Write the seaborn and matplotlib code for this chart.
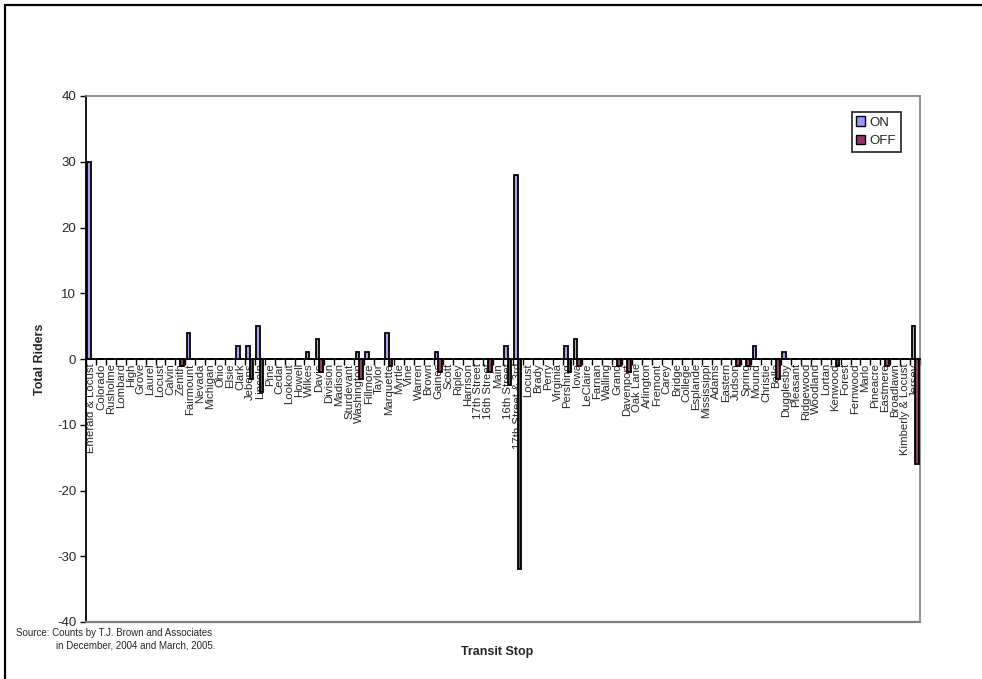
import numpy as np
import pandas as pd
import matplotlib
matplotlib.use("Agg")
import matplotlib.pyplot as plt
import matplotlib.patches as mpatches
import seaborn as sns

# transit stops along the route, in order
stops = [
    "Emerald & Locust", "Colorado", "Rusholme", "Lombard", "High", "Grove",
    "Laurel", "Locust", "Calvin", "Zenith", "Fairmount", "Nevada", "Michigan",
    "Ohio", "Elsie", "Clark", "Jebens", "Lincoln", "Pine", "Cedar", "Lookout",
    "Howell", "Wilkes", "Davis", "Division", "Madison", "Sturdevant",
    "Washington", "Fillmore", "Taylor", "Marquette", "Myrtle", "Vine",
    "Warren", "Brown", "Gaines", "Scott", "Ripley", "Harrison", "17th Street",
    "16th Street", "Main", "16th Street", "17th Street & 3rd", "Locust",
    "Brady", "Perry", "Virginia", "Pershing", "Iowa", "LeClaire", "Farnan",
    "Walling", "Grand", "Davenport", "Oak Lane", "Arlington", "Fremont",
    "Carey", "Bridge", "College", "Esplande", "Mississippi", "Adams",
    "Eastern", "Judson", "Spring", "Mound", "Christie", "Belle", "Dugglesby",
    "Pleasant", "Ridgewood", "Woodland", "Lortan", "Kenwood", "Forest",
    "Fernwood", "Marlo", "Pineacre", "Eastmere", "Broadlawn",
    "Kimberly & Locust", "Jersey",
]

on_riders = [
    30, 0, 0, 0, 0, 0, 0, 0, 0, 0, 4, 0, 0, 0, 0, 2, 2, 5, 0, 0, 0,
    0, 1, 3, 0, 0, 0, 1, 1, 0, 4, 0, 0, 0, 0, 1, 0, 0, 0, 0,
    0, 0, 2, 28, 0, 0, 0, 0, 2, 3, 0, 0, 0, 0, 0, 0, 0, 0,
    0, 0, 0, 0, 0, 0, 0, 0, 0, 2, 0, 0, 1, 0, 0, 0, 0, 0, 0,
    0, 0, 0, 0, 0, 0, 5,
]

off_riders = [
    0, 0, 0, 0, 0, 0, 0, 0, 0, -1, 0, 0, 0, 0, 0, 0, -3, -5, 0, 0, 0,
    0, 0, -2, 0, 0, 0, -3, 0, 0, -1, 0, 0, 0, 0, -2, 0, 0, 0, 0,
    -2, 0, -4, -32, 0, 0, 0, 0, -2, -1, 0, 0, 0, -1, -2, 0, 0, 0,
    0, 0, 0, 0, 0, 0, 0, -1, -1, 0, 0, -3, 0, 0, 0, 0, 0, -1, 0,
    0, 0, 0, -1, 0, 0, -16,
]

y_ticks = [-40, -30, -20, -10, 0, 10, 20, 30, 40]

ON_COL = "#9999FF"
OFF_COL = "#993366"
GREY = "#808080"

n = len(stops)
df = pd.DataFrame({
    "idx": list(range(n)) * 2,
    "dir": ["ON"] * n + ["OFF"] * n,
    "riders": on_riders + off_riders,
})

sns.set_theme(style="white")
plt.rcParams["font.family"] = ["Liberation Sans", "DejaVu Sans"]

fig = plt.figure(figsize=(9.82, 6.79), dpi=100)
ax = fig.add_axes([86 / 982, 1 - 622 / 679, 834 / 982, 526 / 679])

sns.barplot(
    data=df, x="idx", y="riders", hue="dir", order=list(range(n)),
    hue_order=["ON", "OFF"], palette=[ON_COL, OFF_COL], width=0.7,
    edgecolor="black", linewidth=1.3, zorder=3, legend=False, ax=ax,
)

ax.set_xlim(-0.5, n - 0.5)
ax.set_ylim(-40, 40)
ax.set_yticks(y_ticks)
ax.set_yticklabels([str(v) for v in y_ticks], fontsize=9.5)
ax.tick_params(axis="y", direction="out", length=4, width=1, color="black",
               pad=3, left=True)

ax.spines["bottom"].set_position(("data", 0))
ax.spines["bottom"].set_color("black")
ax.spines["bottom"].set_linewidth(1.3)
ax.spines["left"].set_color("black")
ax.spines["left"].set_linewidth(1.3)
for s in ["top", "right"]:
    ax.spines[s].set_color(GREY)
    ax.spines[s].set_linewidth(1.2)
ax.axhline(-40, color=GREY, lw=1.6, clip_on=False, zorder=4)

ax.set_xticks(range(n))
ax.set_xticklabels(stops, rotation=90, fontsize=8.2)
ax.set_xticks(np.arange(-0.5, n, 1.0), minor=True)
ax.tick_params(axis="x", which="major", length=0, pad=3)
ax.tick_params(axis="x", which="minor", direction="out", length=4,
               width=1, color="black", bottom=True)
for lab in ax.get_xticklabels():
    lab.set_zorder(2)

ax.set_xlabel("")
ax.set_ylabel("")
ax.grid(False)

handles = [
    mpatches.Patch(facecolor=ON_COL, edgecolor="black", label="ON"),
    mpatches.Patch(facecolor=OFF_COL, edgecolor="black", label="OFF"),
]
leg = ax.legend(handles=handles, loc="upper left", bbox_to_anchor=(0.918, 0.97),
                fontsize=9.5, frameon=True, fancybox=False, handlelength=0.7,
                handleheight=0.7, handletextpad=0.3, borderpad=0.35,
                labelspacing=0.5, borderaxespad=0)
leg.get_frame().set_edgecolor("black")
leg.get_frame().set_linewidth(1.3)

fig.text(40 / 982, 1 - 359 / 679, "Total Riders", rotation=90, fontsize=9,
         fontweight="bold", ha="center", va="center")
fig.text(497 / 982, 1 - 652 / 679, "Transit Stop", fontsize=9,
         fontweight="bold", ha="center", va="center")
fig.text(16 / 982, 1 - 633 / 679, "Source: Counts by T.J. Brown and Associates",
         fontsize=7, ha="left", va="center")
fig.text(56 / 982, 1 - 646 / 679, "in December, 2004 and March, 2005.",
         fontsize=7, ha="left", va="center")

frame = mpatches.Rectangle((5 / 982, -0.1), 1.2, 1 - 5 / 679 + 0.1,
                           transform=fig.transFigure, fill=False,
                           edgecolor="black", linewidth=1.6, clip_on=False)
fig.patches.append(frame)

fig.savefig("out.png", dpi=100)
